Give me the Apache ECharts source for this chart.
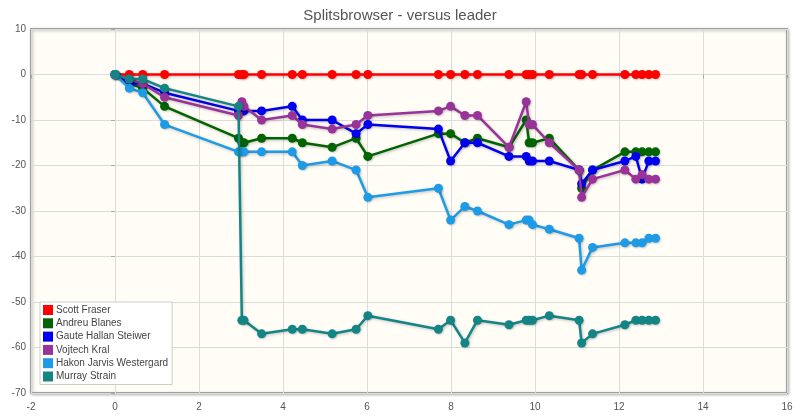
<!DOCTYPE html>
<html>
<head>
<meta charset="utf-8">
<script src="https://cdn.jsdelivr.net/npm/echarts@6/dist/echarts.min.js"></script>
<style>
html,body{margin:0;padding:0;background:#fff;}
#chart{width:800px;height:419px;}
</style>
</head>
<body>
<div id="chart"></div>
<script>
// Cumulative leader time at each control (x-axis)
const controlTimes = [0, 0.34, 0.66, 1.18, 2.94, 3.02, 3.07, 3.49, 4.22, 4.46, 5.17, 5.74, 6.02, 7.70, 7.99, 8.33, 8.63, 9.38, 9.79, 9.86, 9.94, 10.34, 11.05, 11.11, 11.37, 12.14, 12.40, 12.55, 12.71, 12.87];

const competitorNames = ["Scott Fraser", "Andreu Blanes", "Gaute Hallan Steiwer", "Vojtech Kral", "Hakon Jarvis Westergard", "Murray Strain"];

const scottFraser   = [0, 0, 0, 0, 0, 0, 0, 0, 0, 0, 0, 0, 0, 0, 0, 0, 0, 0, 0, 0, 0, 0, 0, 0, 0, 0, 0, 0, 0, 0];
const andreuBlanes  = [0, -2, -3, -7, -14, -15, -15, -14, -14, -15, -16, -14, -18, -13, -13, -15, -14, -16, -10, -15, -15, -14, -21, -25, -21, -17, -17, -17, -17, -17];
const gauteSteiwer  = [0, -2, -2, -4, -8, -8, -8, -8, -7, -10, -10, -13, -11, -12, -19, -15, -15, -18, -18, -19, -19, -19, -21, -24, -21, -19, -18, -23, -19, -19];
const vojtechKral   = [0, -1, -2, -5, -9, -6, -7, -10, -9, -11, -12, -11, -9, -8, -7, -9, -9, -16, -6, -11, -11, -15, -21, -27, -23, -21, -23, -22, -23, -23];
const hakonWestergard = [0, -3, -4, -11, -17, -17, -17, -17, -17, -20, -19, -21, -27, -25, -32, -29, -30, -33, -32, -32, -33, -34, -36, -43, -38, -37, -37, -37, -36, -36];
const murrayStrain  = [0, -1, -1, -3, -7, -54, -54, -57, -56, -56, -57, -56, -53, -56, -54, -59, -54, -55, -54, -54, -54, -53, -54, -59, -57, -55, -54, -54, -54, -54];

const seriesValues = [scottFraser, andreuBlanes, gauteSteiwer, vojtechKral, hakonWestergard, murrayStrain];
const seriesColors = ["#ff0000", "#006400", "#0000ee", "#993399", "#1e9be6", "#138585"];

const xTicks = { min: -2, max: 16, interval: 2 };
const yTicks = { min: -70, max: 10, interval: 10 };

const chart = echarts.init(document.getElementById('chart'), null, {renderer: 'canvas'});

const series = competitorNames.map((name, i) => ({
  name: name,
  type: 'line',
  data: controlTimes.map((t, k) => [t, seriesValues[i][k]]),
  symbol: 'circle',
  symbolSize: 9,
  showSymbol: true,
  color: seriesColors[i],
  lineStyle: {
    width: 2.5,
    color: seriesColors[i],
    shadowColor: 'rgba(0,0,0,0.25)',
    shadowBlur: 3,
    shadowOffsetX: 1,
    shadowOffsetY: 1
  },
  itemStyle: {
    color: seriesColors[i],
    shadowColor: 'rgba(0,0,0,0.2)',
    shadowBlur: 2,
    shadowOffsetX: 1,
    shadowOffsetY: 1
  },
  emphasis: { disabled: true },
  animation: false,
  z: 2 + i
}));

chart.setOption({
  animation: false,
  title: {
    text: 'Splitsbrowser - versus leader',
    left: 'center',
    top: 3,
    textStyle: {
      fontFamily: 'Liberation Sans',
      fontSize: 15,
      fontWeight: 'normal',
      color: '#555'
    }
  },
  legend: {
    data: competitorNames,
    orient: 'vertical',
    left: 40,
    top: 302,
    icon: 'rect',
    itemWidth: 10,
    itemHeight: 10,
    itemGap: 3.3,
    padding: [3, 4, 3, 3],
    backgroundColor: '#ffffff',
    borderColor: '#cccccc',
    borderWidth: 1,
    textStyle: {
      fontFamily: 'Liberation Sans',
      fontSize: 10,
      lineHeight: 10,
      color: '#444',
      padding: [0, 0, 0, -2]
    }
  },
  grid: {
    left: 31,
    right: 13,
    top: 29,
    bottom: 26,
    show: true,
    backgroundColor: '#fffdf6',
    borderColor: '#a0a0a0',
    borderWidth: 2,
    shadowColor: 'rgba(0,0,0,0.25)',
    shadowBlur: 3,
    shadowOffsetX: 1,
    shadowOffsetY: 1
  },
  xAxis: {
    type: 'value',
    min: xTicks.min,
    max: xTicks.max,
    interval: xTicks.interval,
    axisLine: { show: false },
    axisTick: { show: true, length: 4, lineStyle: { color: '#aaa' } },
    splitLine: { show: true, lineStyle: { color: '#dcdcdc', width: 1 } },
    axisLabel: { fontFamily: 'Liberation Sans', fontSize: 10, color: '#555', margin: 9 }
  },
  yAxis: {
    type: 'value',
    min: yTicks.min,
    max: yTicks.max,
    interval: yTicks.interval,
    axisLine: { show: false },
    axisTick: { show: true, length: 4, lineStyle: { color: '#aaa' } },
    splitLine: { show: true, lineStyle: { color: '#dcdcdc', width: 1 } },
    axisLabel: { fontFamily: 'Liberation Sans', fontSize: 10, color: '#555', margin: 5 }
  },
  series: series
});
</script>
</body>
</html>
